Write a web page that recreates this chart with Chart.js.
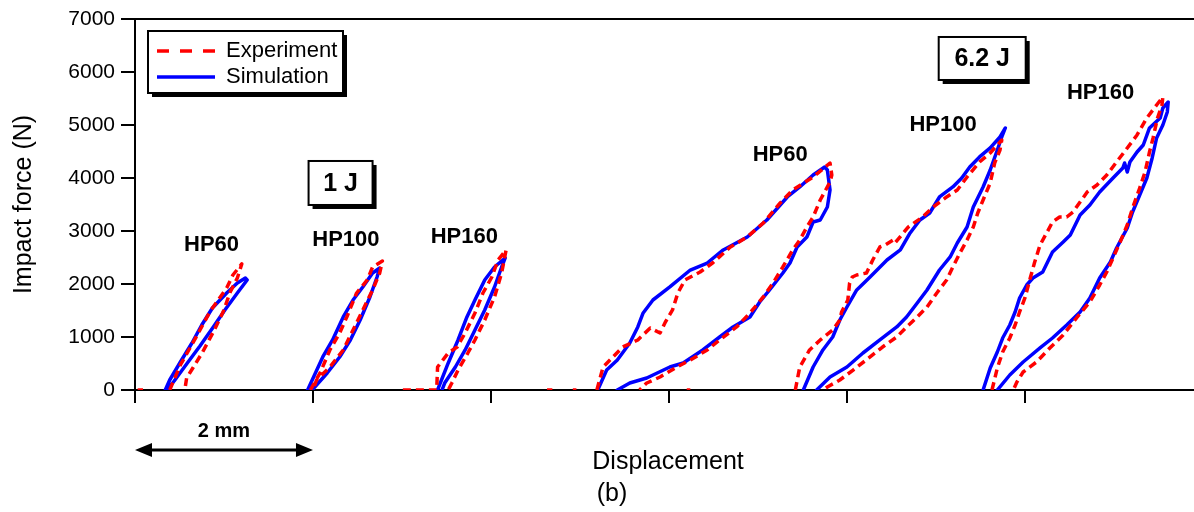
<!DOCTYPE html>
<html>
<head>
<meta charset="utf-8">
<script src="https://cdn.jsdelivr.net/npm/chart.js@4.4.1/dist/chart.umd.min.js"></script>
<style>
  html, body { margin: 0; padding: 0; background: #fff; }
</style>
</head>
<body>
<canvas id="chart" width="1194" height="512"></canvas>
<script>
// displacement in mm, force in N
const sim1J_HP60 = [[0.34,0],[0.39,189],[0.51,528],[0.64,887],[0.75,1227],[0.87,1547],[1.03,1830],[1.15,2019],[1.24,2113],[1.26,2076],[1.15,1830],[1.01,1509],[0.88,1189],[0.73,830],[0.58,491],[0.44,170],[0.36,0]]
const exp1J_HP60 = [[0.39,0],[0.51,472],[0.70,1038],[0.84,1472],[1.03,1925],[1.10,2170],[1.20,2378],[1.15,2113],[1.07,1849],[0.99,1472],[0.88,1094],[0.76,717],[0.65,415],[0.58,226],[0.56,0]]

const sim1J_HP100 = [[1.94,0],[2.11,623],[2.22,944],[2.34,1378],[2.45,1698],[2.56,1944],[2.67,2208],[2.75,2302],[2.72,2132],[2.64,1755],[2.53,1321],[2.42,944],[2.30,623],[2.16,321],[2.02,57],[1.99,0]]
const exp1J_HP100 = [[1.97,0],[2.08,321],[2.19,755],[2.30,1076],[2.38,1378],[2.49,1830],[2.61,2076],[2.67,2321],[2.78,2434],[2.75,2208],[2.67,1887],[2.56,1510],[2.45,1132],[2.34,755],[2.19,434],[2.04,189],[2.00,0]]

const sim1J_HP160 = [[3.40,0],[3.52,510],[3.63,944],[3.73,1378],[3.82,1698],[3.93,2076],[4.04,2321],[4.16,2491],[4.12,2321],[4.04,1944],[3.93,1510],[3.82,1132],[3.71,755],[3.60,434],[3.48,132],[3.45,0]]
const exp1J_HP160 = [[3.01,0],[3.39,0],[3.40,434],[3.52,698],[3.62,811],[3.71,1076],[3.82,1453],[3.91,1830],[4.01,2132],[4.08,2453],[4.17,2642],[4.12,2208],[4.04,1755],[3.93,1321],[3.82,944],[3.74,698],[3.63,377],[3.56,132],[3.52,0]]

const sim62J_HP60 = [[5.20,0],[5.30,377],[5.42,566],[5.56,887],[5.65,1189],[5.71,1453],[5.82,1698],[6.01,1944],[6.24,2264],[6.43,2396],[6.61,2642],[6.88,2887],[7.10,3208],[7.33,3642],[7.47,3831],[7.62,4057],[7.75,4208],[7.78,4151],[7.81,3774],[7.78,3453],[7.70,3208],[7.62,3170],[7.55,2887],[7.44,2698],[7.36,2396],[7.28,2208],[7.13,1887],[7.02,1661],[6.91,1378],[6.72,1189],[6.57,1000],[6.38,755],[6.16,510],[6.01,434],[5.75,226],[5.56,132],[5.42,0]]
const exp62J_HP60 = [[5.19,0],[5.26,434],[5.37,623],[5.48,811],[5.65,944],[5.79,1170],[5.90,1076],[5.96,1283],[6.04,1510],[6.10,1830],[6.18,2076],[6.35,2227],[6.49,2396],[6.69,2698],[6.88,2887],[7.06,3151],[7.25,3529],[7.39,3774],[7.62,4019],[7.81,4283],[7.83,4057],[7.81,3925],[7.70,3585],[7.62,3264],[7.55,3076],[7.47,2830],[7.39,2642],[7.28,2321],[7.17,2019],[7.06,1755],[6.91,1453],[6.76,1189],[6.57,944],[6.43,755],[6.24,566],[6.09,434],[5.90,245],[5.75,132],[5.67,0]]

const sim62J_HP100 = [[7.51,0],[7.62,434],[7.73,755],[7.84,1000],[7.92,1321],[8.00,1566],[8.11,1887],[8.26,2132],[8.45,2453],[8.60,2642],[8.71,2963],[8.82,3208],[8.93,3340],[9.04,3642],[9.19,3831],[9.29,4000],[9.38,4208],[9.49,4397],[9.61,4567],[9.72,4774],[9.78,4944],[9.74,4774],[9.69,4529],[9.61,4151],[9.53,3831],[9.42,3453],[9.35,3076],[9.24,2774],[9.16,2510],[9.04,2264],[8.90,1887],[8.79,1642],[8.67,1378],[8.56,1189],[8.37,944],[8.18,698],[8.00,434],[7.81,245],[7.66,0]]
const exp62J_HP100 = [[7.42,0],[7.47,434],[7.58,755],[7.70,944],[7.84,1132],[7.92,1321],[7.94,1472],[8.01,1698],[8.03,2019],[8.06,2132],[8.11,2170],[8.22,2208],[8.29,2453],[8.37,2698],[8.43,2736],[8.52,2830],[8.54,2774],[8.69,3076],[8.85,3264],[8.97,3453],[9.12,3642],[9.24,3774],[9.35,4019],[9.49,4302],[9.61,4472],[9.74,4717],[9.72,4529],[9.66,4283],[9.61,3906],[9.53,3585],[9.47,3340],[9.42,3076],[9.35,2830],[9.27,2585],[9.19,2321],[9.12,2076],[9.01,1830],[8.90,1566],[8.79,1378],[8.67,1189],[8.56,1000],[8.40,811],[8.26,623],[8.07,377],[7.92,189],[7.78,57],[7.73,0]]

const sim62J_HP160 = [[9.53,0],[9.61,415],[9.69,717],[9.75,981],[9.83,1227],[9.89,1472],[9.94,1736],[10.02,1981],[10.09,2113],[10.20,2227],[10.31,2604],[10.43,2793],[10.51,2925],[10.62,3302],[10.73,3491],[10.84,3736],[10.99,4000],[11.10,4189],[11.12,4283],[11.15,4113],[11.18,4302],[11.26,4491],[11.33,4623],[11.40,4944],[11.52,5132],[11.55,5321],[11.61,5434],[11.60,5246],[11.55,5000],[11.48,4755],[11.43,4378],[11.37,4000],[11.29,3680],[11.21,3359],[11.15,3057],[11.03,2680],[10.96,2415],[10.84,2113],[10.73,1736],[10.62,1472],[10.47,1227],[10.31,981],[10.17,793],[9.98,528],[9.83,283],[9.69,0]]
const exp62J_HP160 = [[9.63,0],[9.69,415],[9.75,717],[9.83,981],[9.89,1227],[9.94,1472],[10.00,1736],[10.06,2113],[10.11,2415],[10.17,2736],[10.25,2981],[10.31,3170],[10.39,3264],[10.47,3264],[10.54,3359],[10.62,3547],[10.70,3736],[10.81,3868],[10.92,4057],[11.03,4302],[11.15,4566],[11.26,4812],[11.37,5132],[11.48,5378],[11.55,5529],[11.54,5378],[11.49,5132],[11.44,4755],[11.40,4491],[11.35,4113],[11.29,3812],[11.21,3434],[11.15,3113],[11.07,2793],[10.99,2491],[10.92,2227],[10.84,1981],[10.73,1661],[10.58,1359],[10.43,1038],[10.28,793],[10.13,528],[9.98,340],[9.91,151],[9.87,0]]

// stray experiment points lying on the zero line
const expBaseline = [[[0.03,0],[0.09,0]], [[4.63,0],[4.69,0]], [[4.92,0],[4.96,0]], [[6.20,0],[6.24,0]]]

const yTicks = [0, 1000, 2000, 3000, 4000, 5000, 6000, 7000]
const xTicks = [0, 2, 4, 6, 8, 10]

// label text + where it sits (mm, N)
const curveLabels = [
  { text: 'HP60', x: 0.86, y: 2736 },
  { text: 'HP100', x: 2.37, y: 2830 },
  { text: 'HP160', x: 3.70, y: 2887 },
  { text: 'HP60', x: 7.25, y: 4444 },
  { text: 'HP100', x: 9.08, y: 5000 },
  { text: 'HP160', x: 10.85, y: 5614 },
]
const energyBoxes = [
  { text: '1 J', x: 2.31, y: 3906, w: 64, h: 44 },
  { text: '6.2 J', x: 9.52, y: 6255, w: 87, h: 43 },
]

const FONT = '"Liberation Sans", Arial, sans-serif'
const toXY = (arr) => arr.map(([x, y]) => ({ x, y }))

function expSet(arr) {
  return { data: toXY(arr), borderColor: '#ff0000', borderWidth: 3.5, borderDash: [8, 5], showLine: true, pointRadius: 0, borderJoinStyle: 'round' }
}
function simSet(arr) {
  return { data: toXY(arr), borderColor: '#0000ff', borderWidth: 3.5, showLine: true, pointRadius: 0, borderJoinStyle: 'round', borderCapStyle: 'round' }
}

const expCurves = [exp1J_HP60, exp1J_HP100, exp1J_HP160, exp62J_HP60, exp62J_HP100, exp62J_HP160]
const simCurves = [sim1J_HP60, sim1J_HP100, sim1J_HP160, sim62J_HP60, sim62J_HP100, sim62J_HP160]

const datasets = [
  ...expCurves.map(expSet),
  ...expBaseline.map(expSet),
  ...simCurves.map(simSet),
]

function shadowBox(ctx, x0, y0, w, h) {
  ctx.fillStyle = '#000'
  ctx.fillRect(x0 + 4, y0 + 4, w, h)
  ctx.fillStyle = '#fff'
  ctx.fillRect(x0, y0, w, h)
  ctx.strokeStyle = '#000'
  ctx.lineWidth = 2
  ctx.strokeRect(x0, y0, w, h)
}

const overlay = {
  id: 'overlay',
  afterDraw(chart) {
    const { ctx, chartArea: area, scales: { x, y } } = chart
    ctx.save()

    // top frame line
    ctx.strokeStyle = '#000'
    ctx.lineWidth = 2
    ctx.beginPath()
    ctx.moveTo(area.left - 1, area.top)
    ctx.lineTo(area.right, area.top)
    ctx.stroke()

    // HP labels
    ctx.fillStyle = '#000'
    ctx.textAlign = 'center'
    ctx.textBaseline = 'middle'
    ctx.font = 'bold 22px ' + FONT
    curveLabels.forEach(l => ctx.fillText(l.text, x.getPixelForValue(l.x), y.getPixelForValue(l.y)))

    // energy boxes
    energyBoxes.forEach(b => {
      const cx = x.getPixelForValue(b.x), cy = y.getPixelForValue(b.y)
      shadowBox(ctx, cx - b.w / 2, cy - b.h / 2, b.w, b.h)
      ctx.fillStyle = '#000'
      ctx.font = 'bold 25px ' + FONT
      ctx.fillText(b.text, cx, cy + 1)
    })

    // legend
    const lx = area.left + 13, ly = area.top + 12
    shadowBox(ctx, lx, ly, 195, 62)
    ctx.lineWidth = 3.5
    ctx.strokeStyle = '#ff0000'
    ctx.setLineDash([12, 11])
    ctx.beginPath(); ctx.moveTo(lx + 9, ly + 20); ctx.lineTo(lx + 67, ly + 20); ctx.stroke()
    ctx.setLineDash([])
    ctx.strokeStyle = '#0000ff'
    ctx.beginPath(); ctx.moveTo(lx + 9, ly + 46); ctx.lineTo(lx + 67, ly + 46); ctx.stroke()
    ctx.fillStyle = '#000'
    ctx.textAlign = 'left'
    ctx.font = '22px ' + FONT
    ctx.fillText('Experiment', lx + 78, ly + 20)
    ctx.fillText('Simulation', lx + 78, ly + 46)

    // 2 mm scale arrow
    const ax0 = x.getPixelForValue(0), ax1 = x.getPixelForValue(2), ay = area.bottom + 60
    ctx.strokeStyle = '#000'
    ctx.lineWidth = 3
    ctx.beginPath(); ctx.moveTo(ax0 + 10, ay); ctx.lineTo(ax1 - 10, ay); ctx.stroke()
    ctx.beginPath()
    ctx.moveTo(ax0, ay); ctx.lineTo(ax0 + 17, ay - 7); ctx.lineTo(ax0 + 17, ay + 7); ctx.closePath()
    ctx.moveTo(ax1, ay); ctx.lineTo(ax1 - 17, ay - 7); ctx.lineTo(ax1 - 17, ay + 7); ctx.closePath()
    ctx.fill()
    ctx.textAlign = 'center'
    ctx.font = 'bold 20px ' + FONT
    ctx.fillText('2 mm', (ax0 + ax1) / 2, area.bottom + 41)

    // x title and panel tag
    ctx.font = '25px ' + FONT
    ctx.fillText('Displacement', 668, 462)
    ctx.fillText('(b)', 612, 494)
    ctx.restore()
  }
}

new Chart(document.getElementById('chart'), {
  type: 'scatter',
  data: { datasets },
  options: {
    responsive: false,
    animation: false,
    layout: { padding: { top: 19, right: 0, left: 0, bottom: 0 } },
    plugins: { legend: { display: false }, tooltip: { enabled: false } },
    scales: {
      x: {
        type: 'linear', min: 0, max: 11.9,
        afterBuildTicks: (s) => { s.ticks = xTicks.map(v => ({ value: v })) },
        ticks: { display: false },
        grid: { drawOnChartArea: false, tickLength: 13, color: '#000', lineWidth: 2 },
        border: { color: '#000', width: 2 },
        afterFit: (s) => { s.height = 122 }
      },
      y: {
        min: 0, max: 7000,
        afterBuildTicks: (s) => { s.ticks = yTicks.map(v => ({ value: v })) },
        ticks: { color: '#000', font: { size: 21, family: FONT }, padding: 6, callback: (v) => String(v) },
        grid: { drawOnChartArea: false, tickLength: 14, color: '#000', lineWidth: 2 },
        border: { color: '#000', width: 2 },
        title: { display: true, text: 'Impact force (N)', color: '#000', font: { size: 25, family: FONT }, padding: { top: 9 } },
        afterFit: (s) => { s.width = 135 }
      }
    }
  },
  plugins: [overlay]
})
</script>
</body>
</html>
